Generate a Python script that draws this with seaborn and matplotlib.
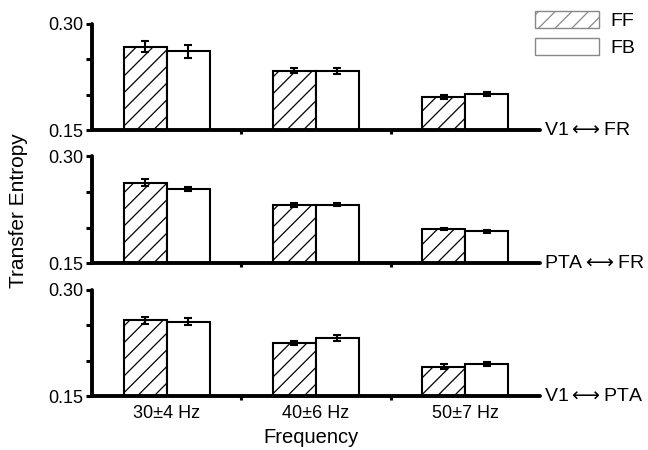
import matplotlib
matplotlib.use("Agg")
import matplotlib.pyplot as plt
from matplotlib.patches import Patch
from matplotlib.ticker import FixedLocator
import pandas as pd
import seaborn as sns

# values
freqs = ["30±4 Hz", "40±6 Hz", "50±7 Hz"]
pairs = ["V1$\\longleftrightarrow$FR", "PTA$\\longleftrightarrow$FR", "V1$\\longleftrightarrow$PTA"]
directions = ["FF", "FB"]

ff_mean = [
    [0.268, 0.234, 0.197],   # V1-FR
    [0.263, 0.232, 0.198],   # PTA-FR
    [0.257, 0.225, 0.192],   # V1-PTA
]
ff_err = [
    [0.008, 0.003, 0.003],
    [0.005, 0.003, 0.002],
    [0.005, 0.003, 0.003],
]
fb_mean = [
    [0.261, 0.233, 0.2005],
    [0.254, 0.232, 0.195],
    [0.255, 0.232, 0.196],
]
fb_err = [
    [0.009, 0.004, 0.003],
    [0.003, 0.002, 0.002],
    [0.005, 0.004, 0.003],
]

rows = []
for k, p in enumerate(pairs):
    for i, f in enumerate(freqs):
        rows.append({"pair": p, "freq": f, "dir": "FF", "te": ff_mean[k][i], "err": ff_err[k][i]})
        rows.append({"pair": p, "freq": f, "dir": "FB", "te": fb_mean[k][i], "err": fb_err[k][i]})
df = pd.DataFrame(rows)

sns.set_theme(style="ticks")
FONT = ["Liberation Sans", "DejaVu Sans"]
plt.rcParams["font.family"] = FONT
plt.rcParams["hatch.linewidth"] = 0.9
plt.rcParams["hatch.color"] = "black"
plt.rcParams["axes.edgecolor"] = "black"
plt.rcParams["xtick.color"] = "black"
plt.rcParams["ytick.color"] = "black"
plt.rcParams["text.color"] = "black"
plt.rcParams["mathtext.fontset"] = "dejavusans"

fig = plt.figure(figsize=(6.48, 4.5), dpi=100)
boxes = [
    [0.142, 0.711, 0.691, 0.236],
    [0.142, 0.415, 0.691, 0.238],
    [0.142, 0.119, 0.691, 0.237],
]

for k, p in enumerate(pairs):
    ax = fig.add_axes(boxes[k])
    sub = df[df["pair"] == p]
    sns.barplot(data=sub, x="freq", y="te", hue="dir", order=freqs, hue_order=directions,
                width=0.575, errorbar=None, legend=False, ax=ax,
                palette=["white", "white"], edgecolor="black", linewidth=1.5)
    for cont, d in zip(ax.containers, directions):
        errs = sub[sub["dir"] == d].set_index("freq").loc[freqs, "err"].values
        for bar, e in zip(cont, errs):
            if d == "FF":
                bar.set_hatch("//")
            cx = bar.get_x() + bar.get_width() / 2
            ax.errorbar(cx, bar.get_height(), yerr=e, color="black", lw=1.5,
                        capsize=3, capthick=1.5, zorder=5)

    ax.set_ylim(0.15, 0.30)
    ax.set_xlim(-0.5, 2.5)
    ax.set_yticks([0.15, 0.20, 0.25, 0.30])
    ax.set_yticklabels(["0.15", "", "", "0.30"])
    ax.tick_params(axis="y", length=4, width=2.2, labelsize=13, pad=2)
    ax.xaxis.set_minor_locator(FixedLocator([0.5, 1.5]))
    ax.tick_params(axis="x", which="major", length=0, labelsize=13, pad=6)
    ax.tick_params(axis="x", which="minor", length=3, width=2.2)
    if k < 2:
        ax.set_xticklabels([])
    ax.set_xlabel("")
    ax.set_ylabel("")
    sns.despine(ax=ax)
    for s in ["left", "bottom"]:
        ax.spines[s].set_linewidth(2.8)
        ax.spines[s].set_capstyle("round")
    ax.text(1.01, 0.0, p, transform=ax.transAxes, ha="left", va="center", fontsize=14)

fig.text(0.028, 0.532, "Transfer Entropy", rotation=90, ha="center", va="center", fontsize=15)
fig.text(0.48, 0.028, "Frequency", ha="center", va="center", fontsize=14.5)

handles = [
    Patch(facecolor="white", edgecolor="#888888", hatch="//", label="FF"),
    Patch(facecolor="white", edgecolor="#888888", label="FB"),
]
fig.legend(handles=handles, loc="upper left", bbox_to_anchor=(0.826, 0.975), frameon=False,
           fontsize=14, handlelength=3.3, handleheight=0.95, handletextpad=0.55,
           labelspacing=0.4, borderpad=0, borderaxespad=0)

fig.savefig("out.png", dpi=100)
